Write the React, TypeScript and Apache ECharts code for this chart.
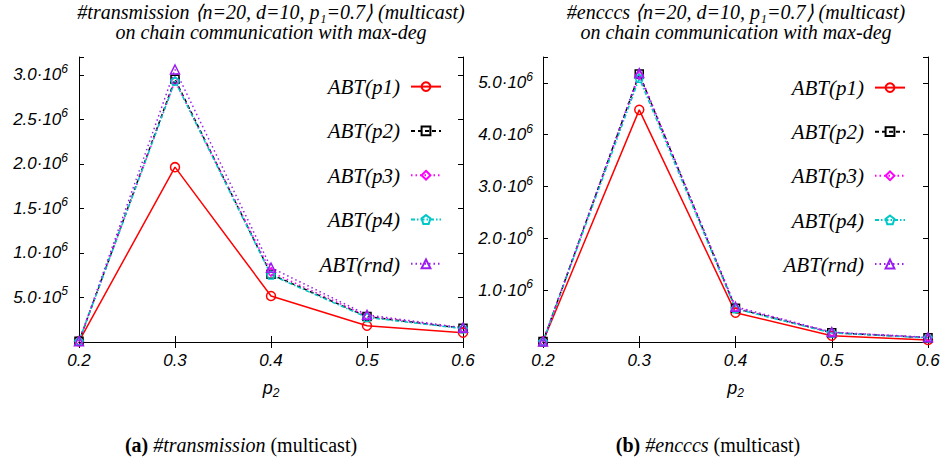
import React, { useEffect, useRef } from "react";
import * as echarts from "echarts";

const xCats = ["0.2", "0.3", "0.4", "0.5", "0.6"];
const seriesNames = ["ABT(p1)", "ABT(p2)", "ABT(p3)", "ABT(p4)", "ABT(rnd)"];

// #transmission
const transP1 = [8000, 1963000, 517000, 183000, 105000];
const transP2 = [8000, 2950000, 760000, 285000, 154000];
const transP3 = [8000, 2930000, 785000, 292000, 152000];
const transP4 = [8000, 2930000, 752000, 276000, 150000];
const transRnd = [8000, 3060000, 835000, 305000, 160000];

// #encccs
const encP1 = [8000, 4480000, 566000, 120000, 40000];
const encP2 = [8000, 5170000, 650000, 180000, 83000];
const encP3 = [8000, 5150000, 660000, 185000, 85000];
const encP4 = [8000, 5090000, 640000, 175000, 80000];
const encRnd = [8000, 5190000, 680000, 191000, 90000];

const transTicks = { max: 3200000, interval: 500000 };
const encTicks = { max: 5500000, interval: 1000000 };

const titleLines1 = ["#transmission ⟨n=20, d=10, p₁=0.7⟩ (multicast)", "on chain communication with max-deg"];
const titleLines2 = ["#encccs ⟨n=20, d=10, p₁=0.7⟩ (multicast)", "on chain communication with max-deg"];
const caption1 = ["(a)", "#transmission", "(multicast)"];
const caption2 = ["(b)", "#encccs", "(multicast)"];

const colors = ["#ff0000", "#000000", "#ff00ff", "#00c8c8", "#9a1ef0"];
const dashes: any[] = ["solid", [4, 3], [1.5, 3], [4, 2, 1.5, 2], [1.5, 3]];
const pentagon =
  "path://M0,-10 L9.51,-3.09 L5.88,8.09 L-5.88,8.09 L-9.51,-3.09 Z";
const symbols = ["circle", "rect", "diamond", pentagon, "triangle"];
const symbolSizes = [9, 8, 8, 8, 9];

const SERIF = "Liberation Serif";
const SANS = "Liberation Sans";
const sansItalic = { fontFamily: SANS, fontStyle: "italic" as const };

function sciLabel(interval: number) {
  return (v: number) => {
    if (v === 0) return "";
    const k = v / interval;
    if (Math.abs(k - Math.round(k)) > 1e-6) return "";
    const exp = Math.floor(Math.log10(v) + 1e-9);
    const mant = (v / Math.pow(10, exp)).toFixed(1);
    return `{m|${mant}·10}{e|${exp}}`;
  };
}

const yRich = {
  m: { ...sansItalic, fontSize: 17, lineHeight: 24, color: "#000" },
  e: { ...sansItalic, fontSize: 12, lineHeight: 10, verticalAlign: "top", color: "#000" },
};

function measure(font: string, s: string) {
  const ctx = document.createElement("canvas").getContext("2d");
  if (!ctx) return s.length * 9;
  ctx.font = font;
  return ctx.measureText(s).width;
}

function captionGraphics(parts: string[], cx: number, cy: number) {
  const size = 20;
  const specs = [
    { text: parts[0], fontWeight: "bold", fontStyle: "normal" },
    { text: " ", fontWeight: "normal", fontStyle: "normal" },
    { text: parts[1], fontWeight: "normal", fontStyle: "italic" },
    { text: " " + parts[2], fontWeight: "normal", fontStyle: "normal" },
  ];
  const widths = specs.map((s) =>
    measure(`${s.fontStyle} ${s.fontWeight} ${size}px "${SERIF}"`, s.text)
  );
  const total = widths.reduce((a, b) => a + b, 0);
  let x = cx - total / 2;
  const out: any[] = [];
  specs.forEach((s, i) => {
    if (s.text.trim() !== "") {
      out.push({
        type: "text",
        x,
        y: cy,
        style: {
          text: s.text,
          fontFamily: SERIF,
          fontSize: size,
          fontWeight: s.fontWeight,
          fontStyle: s.fontStyle,
          fill: "#000",
          align: "left",
          verticalAlign: "middle",
        },
      });
    }
    x += widths[i];
  });
  return out;
}

function titleGraphics(lines: string[], cx: number) {
  return lines.map((t, i) => ({
    type: "text",
    x: cx,
    y: 11.5 + i * 20.5,
    style: {
      text: t,
      fontFamily: SERIF,
      fontStyle: "italic",
      fontSize: 20,
      fill: "#000",
      align: "center",
      verticalAlign: "middle",
    },
  }));
}

function legendTextGraphics(x: number, y0: number, step: number) {
  return seriesNames.map((n, i) => ({
    type: "text",
    x,
    y: y0 + i * step,
    style: {
      text: n,
      fontFamily: SERIF,
      fontStyle: "italic",
      fontSize: 21,
      fill: "#000",
      align: "right",
      verticalAlign: "middle",
    },
  }));
}

export default function App() {
  const ref = useRef<HTMLDivElement>(null);
  useEffect(() => {
    if (!ref.current) return;
    const chart = echarts.init(ref.current, null, { renderer: "svg" });

    const mkX = (gridIndex: number, top: boolean) => ({
      type: "category",
      gridIndex,
      data: xCats,
      boundaryGap: false,
      position: top ? "top" : "bottom",
      axisLine: { show: true, lineStyle: { color: "#000", width: 1 } },
      axisTick: { show: true, inside: true, length: 6, lineStyle: { color: "#000" } },
      axisLabel: top
        ? { show: false }
        : { show: true, margin: 10, fontSize: 17, ...sansItalic, color: "#000" },
      splitLine: { show: false },
      name: top ? "" : "{p|p}{s|2}",
      nameLocation: "middle",
      nameGap: 35,
      nameTextStyle: {
        rich: {
          p: { ...sansItalic, fontSize: 18, lineHeight: 22, color: "#000" },
          s: { ...sansItalic, fontSize: 12, lineHeight: 10, verticalAlign: "bottom", color: "#000" },
        },
      },
    });
    const mkY = (gridIndex: number, right: boolean, t: { max: number; interval: number }, margin: number) => ({
      type: "value",
      gridIndex,
      min: 0,
      max: t.max,
      interval: t.interval,
      position: right ? "right" : "left",
      axisLine: { show: true, lineStyle: { color: "#000", width: 1 } },
      axisTick: { show: true, inside: true, length: 5, lineStyle: { color: "#000" } },
      axisLabel: right
        ? { show: false }
        : { show: true, margin, formatter: sciLabel(t.interval), rich: yRich },
      splitLine: { show: false },
    });

    const mkSeries = (data: number[][], xi: number, yi: number) =>
      data.map((d, i) => ({
        name: seriesNames[i],
        type: "line",
        xAxisIndex: xi,
        yAxisIndex: yi,
        data: d,
        symbol: symbols[i],
        symbolSize: symbolSizes[i],
        showAllSymbol: true,
        itemStyle: { color: "rgba(0,0,0,0)", borderColor: colors[i], borderWidth: 1.5 },
        lineStyle: { color: colors[i], width: 1.5, type: dashes[i] },
        emphasis: { disabled: true },
      }));

    const mkLegend = (right: number, top: number, gap: number) => ({
      data: seriesNames,
      orient: "vertical",
      align: "right",
      right,
      top,
      padding: 0,
      itemWidth: 30,
      itemHeight: 11,
      itemGap: gap,
      selectedMode: false,
      formatter: () => "",
      textStyle: { fontSize: 11, lineHeight: 11, color: "#000" },
    });

    chart.setOption({
      animation: false,
      backgroundColor: "#fff",
      grid: [
        { left: 79, top: 57, width: 384, height: 285 },
        { left: 543, top: 57, width: 385, height: 285 },
      ],
      xAxis: [mkX(0, false), mkX(0, true), mkX(1, false), mkX(1, true)],
      yAxis: [
        mkY(0, false, transTicks, 11),
        mkY(0, true, transTicks, 11),
        mkY(1, false, encTicks, 10),
        mkY(1, true, encTicks, 10),
      ],
      legend: [mkLegend(504, 81.2, 33.5), mkLegend(40, 82.2, 33.3)],
      series: [
        ...mkSeries([transP1, transP2, transP3, transP4, transRnd], 0, 0),
        ...mkSeries([encP1, encP2, encP3, encP4, encRnd], 2, 2),
      ],
      graphic: [
        ...titleGraphics(titleLines1, 271),
        ...titleGraphics(titleLines2, 736),
        ...legendTextGraphics(400, 86.7, 44.5),
        ...legendTextGraphics(864, 87.7, 44.3),
        ...captionGraphics(caption1, 241, 445),
        ...captionGraphics(caption2, 708, 445),
      ],
    });
    return () => chart.dispose();
  }, []);
  return (
    <div
      ref={ref}
      style={{ position: "fixed", left: 0, top: 0, width: 946, height: 462, background: "#fff" }}
    />
  );
}
